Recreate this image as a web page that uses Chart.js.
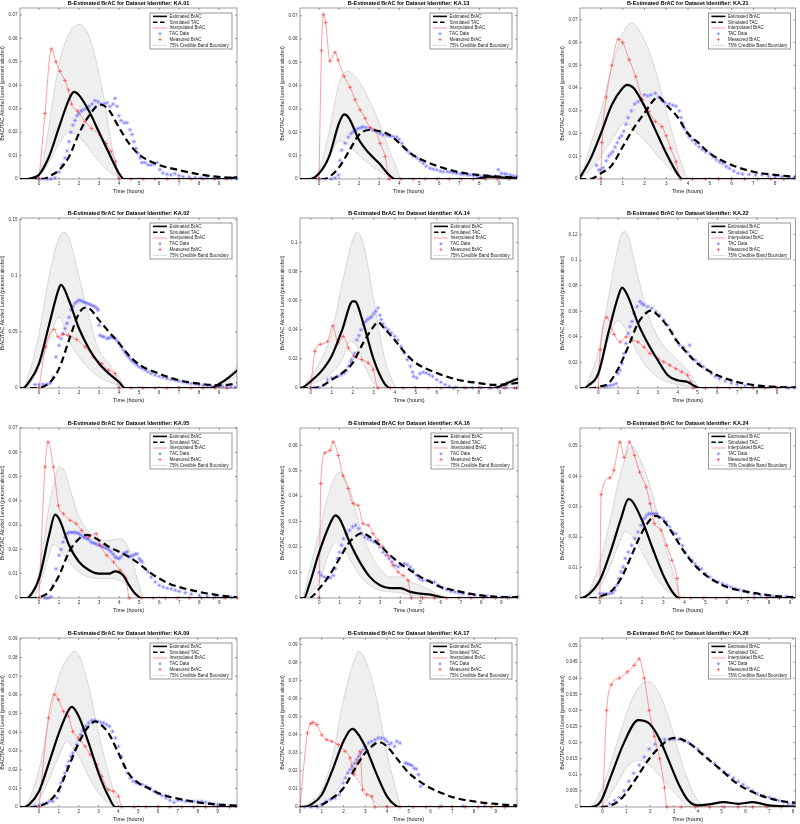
<!DOCTYPE html>
<html>
<head>
<meta charset="utf-8">
<script src="https://cdn.jsdelivr.net/npm/chart.js@4.4.0/dist/chart.umd.min.js"></script>
<style>
  html, body { margin: 0; padding: 0; background: #fff; }
  body { width: 800px; height: 824px; position: relative; overflow: hidden; }
  canvas { position: absolute; }
</style>
</head>
<body>
<script>
// panels, row by row
const panelIds = ['KA.01', 'KA.13', 'KA.21', 'KA.02', 'KA.14', 'KA.22', 'KA.05', 'KA.16', 'KA.24', 'KA.09', 'KA.17', 'KA.26'];
const xMin = [-0.95, -0.95, -0.96, -0.95, -0.51, -0.92, -0.95, -0.95, -0.94, -0.96, 0, -0.95];
const xMax = [9.9, 9.88, 8.93, 9.9, 9.87, 9.93, 9.88, 9.82, 9.25, 9.98, 9.98, 8.1];
const yMax = [0.073, 0.0733, 0.0752, 0.1515, 0.1168, 0.133, 0.07, 0.0668, 0.0559, 0.0905, 0.0937, 0.0525];
const yStep = [0.01, 0.01, 0.01, 0.05, 0.02, 0.02, 0.01, 0.01, 0.01, 0.01, 0.01, 0.005];
const xStep = 1;
const legendLabels = ['Estimated BrAC', 'Simulated TAC', 'Interpolated BrAC', 'TAC Data', 'Measured BrAC', '75% Credible Band Boundary'];

// [hours, percent alcohol]
const estBrAC = [
  [[-1,0],[-0.6,0],[-0.3,.0005],[0,.0018],[0.5,.0095],[1,.022],[1.5,.034],[1.75,.0372],[2,.0358],[2.5,.029],[3,.020],[3.5,.011],[4,.0024],[4.25,0],[9.3,0],[10,.001]],
  [[-1,0],[-0.5,0],[0,.0024],[0.5,.0096],[1,.024],[1.25,.0277],[1.5,.026],[2,.0167],[2.5,.011],[3,.0067],[3.5,.0017],[3.8,0],[7.8,0],[8.5,.001],[9.2,.0006],[10,.0004]],
  [[-1,0],[-0.5,.0084],[0,.020],[0.5,.0326],[1,.040],[1.2,.0414],[1.5,.040],[2,.032],[2.5,.0216],[3,.0113],[3.5,.0025],[3.75,0],[10,0]],
  [[-1,0],[-0.8,0],[-0.5,.0054],[0,.0218],[0.5,.056],[1,.089],[1.1,.0919],[1.5,.078],[2,.053],[2.5,.035],[3,.0218],[3.5,.0128],[4,.0054],[4.3,0],[8.6,0],[9,.0035],[9.5,.0095],[10,.017]],
  [[-1,0],[-0.6,0],[-0.4,.0003],[0,.0046],[0.5,.0114],[1,.022],[1.5,.040],[2,.0595],[2.1,.0595],[2.5,.0446],[3,.0195],[3.5,.0034],[3.8,0],[8.7,0],[9.3,.003],[10,.0072]],
  [[-1,0],[-0.7,0],[-0.5,.002],[0,.0113],[0.5,.0427],[1,.0715],[1.2,.0786],[1.5,.0715],[2,.0506],[2.5,.0348],[3,.0217],[3.5,.010],[4,.006],[4.5,.0047],[4.8,.002],[5.1,0],[10,0]],
  [[-1,0],[-0.6,0],[-0.5,.0004],[0,.008],[0.5,.0258],[0.8,.0343],[1,.0326],[1.5,.0217],[2,.0148],[2.5,.0114],[3,.010],[3.5,.010],[3.8,.011],[4.2,.0093],[4.5,.0052],[4.8,.0018],[5.1,0],[10,0]],
  [[-1,0],[-0.75,0],[-0.5,.005],[0,.018],[0.5,.0286],[0.8,.0325],[1,.0312],[1.5,.022],[2,.0142],[2.5,.0083],[3,.005],[3.5,.0039],[4,.0039],[4.5,.0024],[5,.0017],[5.5,.0013],[6,.0004],[6.3,0],[10,0]],
  [[-1,0],[-0.94,0],[-0.5,.0014],[0,.0058],[0.5,.0151],[1,.0261],[1.35,.0325],[1.5,.0321],[2,.0255],[2.5,.0162],[3,.0075],[3.5,.0014],[3.75,0],[10,0]],
  [[-1,0],[-0.75,0],[-0.5,.0013],[0,.0084],[0.5,.0236],[1,.0396],[1.5,.0521],[1.65,.0536],[2,.0486],[2.5,.0343],[3,.0182],[3.5,.0057],[3.85,0],[10,0]],
  [[0,0],[0.3,.0003],[0.5,.0013],[1,.0068],[1.5,.0207],[2,.0364],[2.4,.0433],[2.5,.0429],[3,.0336],[3.5,.0189],[4,.0059],[4.4,.0007],[4.55,0],[10,0]],
  [[-1,0],[-0.55,0],[-0.1,.0015],[0.37,.010],[0.9,.020],[1.5,.027],[1.95,.026],[2.4,.021],[2.8,.014],[3.2,.007],[3.6,.002],[4,.0005],[4.45,.0008],[5.1,.0015],[5.7,.001],[6.3,.0015],[7,.0005],[8.5,0]]
];

const simTAC = [
  [[-1,0],[0.2,0],[0.6,.0015],[1,.0038],[1.5,.0095],[2,.0195],[2.5,.027],[3.05,.0318],[3.5,.0294],[4,.022],[4.5,.0152],[5,.0105],[6,.006],[7,.0038],[8,.002],[9,.0009],[10,.0004]],
  [[-1,0],[0.3,0],[0.6,.0015],[1,.005],[1.5,.012],[2,.019],[2.5,.021],[3,.0205],[3.5,.019],[4,.0155],[4.5,.0115],[5,.0088],[6,.0053],[7,.0029],[8,.0017],[9,.001],[10,.0006]],
  [[-1,0],[-0.5,0],[0,.0025],[0.5,.006],[1,.0142],[1.5,.0223],[2,.029],[2.5,.0355],[2.65,.036],[3,.0326],[3.5,.0275],[4,.020],[4.5,.0157],[5,.0113],[6,.0062],[7,.0032],[8,.0018],[9,.001],[10,.0006]],
  [[-1,0],[0,0],[0.3,.002],[0.5,.004],[1,.0173],[1.5,.0426],[2,.0665],[2.3,.0715],[2.5,.071],[3,.0605],[3.5,.050],[4,.040],[4.5,.029],[5,.021],[6,.0128],[7,.0069],[8,.0039],[9,.0024],[9.5,.003],[10,.0048]],
  [[-1,0],[0,0],[0.5,.0011],[1,.0057],[1.5,.0103],[2,.0172],[2.5,.031],[3,.0423],[3.2,.0453],[3.5,.041],[4,.033],[4.5,.024],[5,.0172],[6,.0103],[7,.0057],[8,.0034],[8.7,.0022],[9.3,.0025],[10,.0038]],
  [[-1,0],[-0.2,0],[0,.001],[0.5,.0034],[1,.015],[1.5,.032],[2,.0506],[2.5,.0597],[2.65,.0605],[3,.057],[3.5,.048],[4,.036],[4.5,.027],[5,.019],[5.5,.014],[6,.010],[7,.0047],[8,.002],[9,.0008],[10,.0005]],
  [[-1,0],[-0.3,0],[0,.0003],[0.5,.0025],[1,.0093],[1.5,.019],[2,.0244],[2.4,.026],[3,.0237],[3.5,.021],[4,.019],[4.5,.0169],[5,.0141],[5.5,.0107],[6,.008],[6.5,.0059],[7,.0045],[8,.0025],[9,.0011],[10,.0002]],
  [[-1,0],[-0.5,0],[0,.0037],[0.5,.0089],[1,.0155],[1.5,.022],[2,.0253],[2.1,.0255],[2.5,.024],[3,.0207],[3.5,.0168],[4,.0135],[4.5,.0109],[5,.0083],[5.5,.0063],[6,.0043],[6.5,.0033],[7,.0024],[8,.001],[9,.0004],[10,.0003]],
  [[-1,0],[-0.3,0],[0,.0005],[0.5,.002],[1,.0064],[1.5,.014],[2,.0217],[2.5,.0266],[2.65,.027],[3,.0255],[3.5,.0206],[4,.0151],[4.5,.0107],[5,.0075],[5.5,.0053],[6,.0036],[7,.002],[8,.0009],[9,.0003],[10,.0002]],
  [[-1,0],[-0.3,0],[0,.0005],[0.5,.003],[1,.0093],[1.5,.0218],[2,.0343],[2.5,.0432],[2.85,.0459],[3,.045],[3.5,.0396],[4,.0289],[4.5,.0182],[5,.0129],[5.5,.0102],[6,.0075],[6.5,.0057],[7,.0045],[8,.0025],[9,.0013],[10,.0007]],
  [[0,0],[0.5,0],[1,.0013],[1.5,.005],[2,.0105],[2.5,.0207],[3,.030],[3.5,.0355],[3.6,.036],[4,.0336],[4.5,.0262],[5,.0189],[5.5,.0142],[6,.0105],[6.5,.0078],[7,.0055],[8,.0031],[9,.0017],[10,.0007]],
  [[-1,0],[-0.1,0],[0.7,.002],[1.33,.008],[1.96,.015],[2.6,.020],[3,.0215],[3.6,.020],[4.25,.016],[4.9,.012],[5.7,.007],[6.5,.004],[7.4,.002],[8.5,.001]]
];

const bandUpper = [
  [[-1,0],[-0.5,0],[0,.002],[0.3,.012],[0.7,.034],[1,.049],[1.5,.062],[2,.066],[2.5,.061],[3,.045],[3.3,.032],[3.6,.016],[3.9,.005],[4.25,0],[10,0]],
  [[-1,0],[-0.6,0],[0,.004],[0.5,.02],[1,.041],[1.4,.0463],[1.8,.044],[2.5,.034],[3,.024],[3.5,.0124],[3.9,.004],[4.1,0],[10,0]],
  [[-1,0],[-0.96,.0005],[-0.5,.0142],[0,.030],[0.5,.049],[1,.064],[1.4,.0686],[2,.061],[2.5,.048],[3,.030],[3.5,.0128],[3.8,.004],[4,0],[10,0]],
  [[-1,0],[-0.8,0],[-0.5,.0128],[0,.0486],[0.5,.099],[1,.1336],[1.25,.1387],[1.5,.1336],[2,.099],[2.5,.0635],[3,.0337],[3.5,.0218],[4,.0098],[4.3,0],[8.6,0],[9,.003],[9.5,.011],[10,.021]],
  [[-1,0],[-0.5,0],[0,.008],[0.5,.0195],[1,.0378],[1.5,.072],[2,.1018],[2.2,.1069],[2.5,.0995],[3,.0606],[3.5,.0217],[3.9,.0046],[4.1,0],[8.7,0],[9.3,.004],[10,.009]],
  [[-1,0],[-0.7,0],[-0.5,.006],[0,.0283],[0.5,.0689],[1,.1108],[1.3,.1226],[1.5,.1187],[2,.0872],[2.5,.058],[3,.040],[3.5,.0296],[4,.0217],[4.5,.0139],[5,.002],[5.15,0],[10,0]],
  [[-1,0],[-0.6,0],[-0.3,.0025],[0,.0107],[0.5,.038],[0.8,.049],[1,.0539],[1.3,.0519],[1.5,.0464],[2,.0333],[2.5,.0272],[3,.0244],[3.5,.0237],[4,.0244],[4.3,.023],[4.6,.0176],[4.9,.008],[5.1,.0025],[5.3,0],[10,0]],
  [[-1,0],[-0.85,0],[-0.5,.0102],[0,.026],[0.5,.0417],[1,.0495],[1.5,.043],[2,.0286],[2.5,.018],[3,.0115],[3.5,.0083],[4,.0083],[4.5,.0063],[5,.005],[5.5,.003],[6,.001],[6.3,0],[10,0]],
  [[-1,0],[-0.94,0],[-0.5,.0025],[0,.0118],[0.5,.0261],[1,.0414],[1.5,.0497],[2,.0442],[2.5,.0338],[3,.0195],[3.5,.0075],[3.9,0],[10,0]],
  [[-1,0],[-0.75,0],[-0.5,.0039],[0,.020],[0.5,.0468],[1,.070],[1.5,.0807],[1.8,.0834],[2,.0816],[2.5,.0646],[3,.0396],[3.5,.0182],[3.9,.0039],[4.1,0],[10,0]],
  [[0,0],[0.2,.0005],[0.5,.0031],[1,.0096],[1.5,.0281],[2,.0595],[2.5,.0817],[2.7,.0863],[3,.0817],[3.5,.0614],[4,.030],[4.5,.0059],[4.65,0],[10,0]],
  [[-1,0],[-0.55,0],[0.08,.008],[0.7,.022],[1.33,.035],[1.9,.039],[2.4,.035],[2.8,.027],[3.2,.017],[3.6,.008],[4,.002],[4.4,0],[8.5,0]]
];

const bandLower = [
  [[-1,0],[-0.3,0],[0,.0012],[0.5,.007],[1,.015],[1.5,.0198],[2,.018],[2.5,.013],[3,.0075],[3.5,.0032],[4,.0007],[4.3,0],[10,0]],
  [[-1,0],[-0.3,0],[0,.002],[0.5,.009],[1,.0163],[1.5,.0145],[2,.010],[2.5,.0065],[3,.0035],[3.5,.001],[3.9,0],[10,0]],
  [[-1,0],[-0.5,.004],[0,.010],[0.5,.0172],[1,.0245],[1.1,.025],[1.5,.0216],[2,.0172],[2.5,.0113],[3,.0062],[3.5,.0018],[3.8,0],[10,0]],
  [[-1,0],[-0.6,0],[-0.5,.002],[0,.0188],[0.5,.0426],[1,.063],[1.5,.0426],[2,.0277],[2.5,.0173],[3,.0098],[3.5,.0054],[4,.0024],[4.3,0],[8.8,0],[9.3,.004],[10,.012]],
  [[-1,0],[-0.3,0],[0,.0023],[0.5,.0057],[1,.0103],[1.5,.0195],[1.9,.032],[2.2,.0286],[2.5,.0172],[3,.0034],[3.3,0],[8.8,0],[10,.004]],
  [[-1,0],[-0.6,0],[-0.5,.001],[0,.0086],[0.5,.0375],[1,.0527],[1.3,.048],[1.5,.0427],[2,.027],[2.5,.0152],[3,.0086],[3.5,.0047],[4,.0026],[4.5,.0013],[5,0],[10,0]],
  [[-1,0],[-0.3,0],[0,.0045],[0.5,.0176],[0.7,.022],[1,.0203],[1.5,.0148],[2,.0107],[2.5,.0086],[3,.008],[3.5,.008],[4,.0073],[4.5,.0045],[4.8,.0018],[5,0],[10,0]],
  [[-1,0],[-0.6,0],[-0.5,.001],[0,.0063],[0.5,.018],[0.8,.0218],[1,.0214],[1.5,.0155],[2,.0089],[2.5,.005],[3,.003],[3.5,.0024],[4,.0021],[4.5,.0013],[5,.0008],[5.5,0],[10,0]],
  [[-1,0],[-0.7,0],[-0.5,.0005],[0,.0036],[0.5,.0107],[1,.0195],[1.2,.0219],[1.5,.0206],[2,.0151],[2.5,.0086],[3,.0036],[3.5,.0009],[3.75,0],[10,0]],
  [[-1,0],[-0.6,0],[-0.5,.0005],[0,.0039],[0.5,.0146],[1,.0271],[1.4,.0352],[1.5,.0346],[2,.0271],[2.5,.0164],[3,.0075],[3.5,.0021],[3.8,0],[10,0]],
  [[0,0],[0.5,0],[1,.0007],[1.5,.0059],[2,.0152],[2.2,.0183],[2.5,.017],[3,.0087],[3.5,.0022],[3.8,0],[10,0]],
  [[-1,0],[-0.1,0],[0.5,.006],[1.1,.013],[1.5,.0145],[1.96,.013],[2.6,.008],[3.2,.003],[3.6,0],[8.5,0]]
];

const measuredBrAC = [
  [[0,0],[0.3,.028],[0.62,.0555],[0.85,.050],[1.05,.046],[1.3,.042],[1.47,.038],[1.63,.032],[1.92,.029],[2.3,.0245],[2.63,.0216],[3.05,.0188],[3.35,.0152],[3.6,.0117],[3.83,.0074],[4,0],[4.6,0],[5.2,0],[5.8,0],[6.4,0],[7,0],[7.6,0],[8.2,0],[8.8,0],[9.4,0]],
  [[0,0],[0.12,.055],[0.22,.0705],[0.33,.067],[0.55,.0505],[0.8,.0543],[0.95,.051],[1.25,.044],[1.55,.0393],[1.8,.034],[2.05,.0296],[2.3,.026],[2.55,.022],[2.8,.021],[3.05,.0153],[3.3,.0096],[3.5,0],[4.1,0],[4.7,0],[5.3,0],[5.9,0],[6.5,0],[7.1,0],[7.7,0],[8.3,0],[8.9,0],[9.5,0]],
  [[0,0],[0.05,.016],[0.25,.036],[0.5,.050],[0.8,.0615],[1,.060],[1.3,.0524],[1.6,.045],[1.9,.035],[2.2,.0297],[2.5,.0253],[2.8,.023],[3.0,.019],[3.2,.0135],[3.45,.0075],[3.65,0],[4.2,0],[4.8,0],[5.4,0],[6,0],[6.6,0],[7.2,0],[7.8,0],[8.4,0]],
  [[0,0],[0.33,.0367],[0.75,.0522],[0.95,.0456],[1.2,.0477],[1.47,.047],[1.88,.0432],[2.3,.0367],[2.72,.0277],[3.13,.0218],[3.47,.0158],[3.8,.0128],[4,0],[4.6,0],[5.2,0],[5.8,0],[6.4,0],[7,0],[7.6,0],[8.2,0],[8.8,0],[9.4,0]],
  [[0,0],[0.2,.0252],[0.45,.030],[0.8,.032],[1.05,.0428],[1.3,.031],[1.55,.0355],[1.8,.0275],[2.1,.0217],[2.42,.0195],[2.74,.0172],[2.98,.0126],[3.2,0],[3.8,0],[4.4,0],[5,0],[5.6,0],[6.2,0],[6.8,0],[7.4,0],[8,0],[8.6,0],[9.2,0],[9.8,0]],
  [[0,0],[0.1,.030],[0.42,.0553],[0.8,.042],[1.1,.036],[1.4,.040],[1.7,.0375],[2,.036],[2.3,.032],[2.6,.027],[3,.023],[3.3,.0204],[3.6,.0178],[3.9,.0152],[4.2,.0126],[4.5,.010],[4.65,.0047],[4.8,0],[5.4,0],[6,0],[6.6,0],[7.2,0],[7.8,0],[8.4,0],[9,0],[9.6,0]],
  [[0,0],[0.3,.054],[0.45,.0642],[0.72,.054],[0.97,.038],[1.22,.0347],[1.55,.032],[1.85,.0306],[2.13,.0278],[2.47,.0251],[2.85,.0265],[3.05,.0217],[3.38,.0176],[3.72,.0148],[4.05,.0114],[4.35,.008],[4.5,0],[5.1,0],[5.7,0],[6.3,0],[6.9,0],[7.5,0],[8.1,0],[8.7,0],[9.3,0],[9.9,0]],
  [[0,0],[0.08,.045],[0.28,.057],[0.53,.058],[0.69,.0613],[0.94,.056],[1.18,.048],[1.43,.043],[1.68,.0371],[1.92,.0364],[2.17,.0292],[2.42,.0286],[2.66,.0253],[2.9,.0227],[3.16,.020],[3.4,.0168],[3.65,.0128],[3.9,.0102],[4.14,.0089],[4.39,.0069],[4.56,0],[5.1,0],[5.7,0],[6.3,0],[6.9,0],[7.5,0],[8.1,0],[8.7,0],[9.3,0]],
  [[0,0],[0.06,.034],[0.47,.0395],[0.66,.042],[0.95,.0513],[1.15,.0462],[1.4,.0513],[1.64,.0469],[1.88,.0414],[2.19,.0365],[2.38,.031],[2.58,.0245],[2.9,.0223],[3.16,.0173],[3.41,.0124],[3.65,.0064],[3.75,0],[4.3,0],[4.9,0],[5.5,0],[6.1,0],[6.7,0],[7.3,0],[7.9,0],[8.5,0],[9.1,0]],
  [[0,0],[0.47,.0477],[0.77,.0602],[0.98,.0575],[1.23,.0512],[1.48,.0486],[1.7,.0405],[1.99,.037],[2.32,.0325],[2.58,.028],[2.91,.0227],[3.16,.0164],[3.5,.0093],[3.75,.0084],[4,.0057],[4.17,0],[4.8,0],[5.4,0],[6,0],[6.6,0],[7.2,0],[7.8,0],[8.4,0],[9,0],[9.6,0]],
  [[0,0],[0.34,.041],[0.49,.0462],[0.6,.0469],[0.77,.0457],[1,.040],[1.23,.0373],[1.46,.0364],[1.76,.0346],[2.07,.0309],[2.3,.0272],[2.48,.0179],[2.62,.024],[2.76,.0309],[2.88,.0096],[3.07,.0068],[3.3,.0059],[3.45,0],[4,0],[4.6,0],[5.2,0],[5.8,0],[6.4,0],[7,0],[7.6,0],[8.2,0],[8.8,0],[9.4,0]],
  [[0,0],[0.17,.030],[0.37,.038],[0.7,.040],[1.04,.042],[1.33,.044],[1.54,.046],[1.75,.040],[1.96,.030],[2.17,.022],[2.4,.015],[2.6,.006],[2.7,0],[3.3,0],[3.9,0],[4.5,0],[5.1,0],[5.7,0],[6.3,0],[6.9,0],[7.5,0]]
];

const tacData = [
  [[0,0],[0.2,0],[0.4,0],[0.6,0],[0.8,.0005],[1,.003],[1.15,.006],[1.3,.009],[1.4,.012],[1.5,.016],[1.6,.020],[1.7,.023],[1.8,.025],[1.9,.027],[2,.028],[2.1,.029],[2.2,.0295],[2.35,.030],[2.5,.031],[2.65,.032],[2.8,.0335],[2.95,.033],[3.1,.032],[3.25,.032],[3.4,.0325],[3.55,.031],[3.7,.032],[3.8,.0344],[3.9,.031],[4,.027],[4.1,.025],[4.25,.024],[4.4,.024],[4.55,.021],[4.65,.019],[4.75,.016],[4.85,.013],[4.95,.011],[5.05,.009],[5.15,.007],[5.3,.007],[5.45,.006],[5.6,.006],[5.75,.0065],[5.9,.007],[6.05,.004],[6.2,.0025],[6.4,.002],[6.6,.0017],[6.8,.0023],[7,.0015],[7.2,.001],[7.5,.0008],[7.8,.0006],[8.1,.0005],[8.4,.0004],[8.7,.0003],[9,.0003],[9.3,.0002],[9.6,.0002],[9.9,.0001]],
  [[0,0],[0.3,0],[0.6,0],[0.8,.0005],[0.97,.0017],[1.05,.008],[1.13,.0124],[1.3,.0153],[1.46,.018],[1.6,.0195],[1.71,.0203],[1.85,.021],[1.96,.0217],[2.1,.022],[2.2,.0224],[2.35,.022],[2.55,.0217],[2.7,.021],[2.88,.0203],[3.05,.0195],[3.2,.0189],[3.4,.0186],[3.55,.0184],[3.7,.0182],[3.88,.018],[4.0,.017],[4.13,.0153],[4.3,.013],[4.42,.012],[4.54,.011],[4.7,.0098],[4.9,.0089],[5.05,.0078],[5.2,.0067],[5.35,.0055],[5.54,.0046],[5.7,.0042],[5.87,.0039],[6.05,.0034],[6.2,.0031],[6.4,.0031],[6.54,.003],[6.7,.0027],[6.87,.0024],[7.05,.0022],[7.2,.002],[7.4,.0018],[7.54,.0017],[7.7,.0015],[7.87,.0013],[8.05,.0011],[8.2,.001],[8.4,.001],[8.6,.001],[8.8,.0012],[8.95,.004],[9.1,.0024],[9.25,.0022],[9.37,.0021],[9.55,.0017],[9.7,.0013],[9.85,.001]],
  [[-0.2,.006],[-0.1,.004],[0,.004],[0.1,.005],[0.25,.008],[0.35,.010],[0.45,.011],[0.55,.012],[0.65,.014],[0.75,.016],[0.85,.018],[0.95,.019],[1.05,.021],[1.15,.024],[1.25,.027],[1.4,.030],[1.55,.033],[1.7,.034],[1.85,.035],[2,.037],[2.15,.0365],[2.3,.037],[2.5,.0377],[2.65,.036],[2.8,.0345],[2.95,.0335],[3.15,.033],[3.3,.0325],[3.45,.032],[3.6,.030],[3.68,.027],[3.75,.0245],[3.85,.022],[3.95,.020],[4.05,.0186],[4.2,.017],[4.35,.0155],[4.5,.0142],[4.65,.013],[4.8,.012],[5,.0113],[5.15,.0098],[5.3,.0085],[5.45,.0075],[5.6,.0069],[5.75,.0055],[5.9,.0047],[6.1,.0035],[6.3,.0025],[6.5,.0022],[6.8,.002],[7.1,.0018],[7.4,.0018],[7.7,.0012],[8,.001],[8.3,.001],[8.6,.0007],[8.85,.0005]],
  [[-0.2,.003],[0,.003],[0.2,.0035],[0.4,.0035],[0.55,.004],[0.7,.0098],[0.85,.0277],[1,.038],[1.1,.044],[1.2,.0486],[1.3,.053],[1.4,.0576],[1.5,.063],[1.6,.0695],[1.7,.073],[1.8,.0755],[1.9,.077],[2,.0784],[2.1,.0778],[2.2,.077],[2.3,.0762],[2.4,.0755],[2.5,.0748],[2.6,.074],[2.7,.0732],[2.8,.0725],[2.9,.071],[2.95,.0695],[3.0,.056],[3.05,.047],[3.15,.046],[3.25,.0455],[3.4,.044],[3.5,.0445],[3.6,.0456],[3.7,.045],[3.8,.044],[3.9,.042],[4,.040],[4.1,.037],[4.2,.034],[4.3,.0315],[4.4,.029],[4.5,.027],[4.6,.025],[4.7,.0235],[4.8,.022],[4.9,.0205],[5,.0188],[5.15,.0175],[5.3,.016],[5.45,.0145],[5.6,.0128],[5.8,.0115],[6,.0104],[6.2,.0094],[6.4,.0084],[6.6,.0076],[6.8,.0069],[7,.006],[7.2,.0054],[7.4,.0046],[7.6,.0039],[7.8,.0034],[8,.003],[8.2,.0025],[8.4,.002],[8.6,.0017],[8.8,.0015],[9,.0012],[9.2,.001],[9.4,.001],[9.6,.001],[9.8,.0008]],
  [[0,0],[0.2,.0003],[0.4,.0005],[0.6,.002],[0.8,.0057],[1,.0069],[1.15,.0072],[1.3,.008],[1.45,.009],[1.6,.0103],[1.7,.012],[1.8,.015],[1.9,.018],[1.95,.0195],[2.05,.022],[2.1,.024],[2.2,.033],[2.3,.036],[2.4,.040],[2.5,.0435],[2.6,.0455],[2.7,.047],[2.8,.048],[2.9,.049],[3.0,.051],[3.1,.0526],[3.2,.055],[3.3,.050],[3.35,.047],[3.45,.044],[3.55,.0415],[3.7,.040],[3.85,.0378],[4,.0355],[4.15,.033],[4.3,.0286],[4.45,.024],[4.6,.0195],[4.75,.015],[4.85,.011],[4.9,.008],[5.05,.0069],[5.2,.0098],[5.35,.0108],[5.5,.0103],[5.65,.0092],[5.8,.008],[6,.0057],[6.2,.0039],[6.4,.0023],[6.6,.001],[6.9,.0005],[7.3,.0003],[7.7,.0002],[8.1,.0002],[8.5,.0001],[8.9,.0001],[9.3,.0001],[9.7,.0001]],
  [[0.3,.001],[0.45,.0015],[0.6,.002],[0.75,.0025],[0.9,.0034],[1,.0113],[1.1,.014],[1.2,.019],[1.3,.027],[1.4,.0348],[1.5,.0427],[1.6,.048],[1.7,.052],[1.8,.0584],[1.95,.0637],[2.1,.0676],[2.2,.066],[2.3,.065],[2.5,.0637],[2.7,.0624],[2.9,.0597],[3.1,.0571],[3.3,.0532],[3.5,.0493],[3.7,.044],[3.9,.0375],[4.1,.0335],[4.3,.032],[4.5,.028],[4.6,.0335],[4.7,.024],[4.9,.0217],[5.1,.019],[5.3,.0165],[5.5,.014],[5.7,.0113],[5.9,.009],[6.1,.0073],[6.4,.0055],[6.7,.0039],[7,.0029],[7.4,.0018],[7.8,.0013],[8.2,.0009],[8.6,.0006],[9,.0004],[9.5,.0003],[9.9,.0003]],
  [[0.3,0],[0.45,0],[0.6,.0005],[0.7,.0052],[0.85,.012],[1,.0176],[1.1,.020],[1.2,.023],[1.3,.025],[1.4,.0265],[1.5,.027],[1.6,.027],[1.7,.027],[1.8,.027],[1.9,.0268],[2,.0265],[2.1,.0258],[2.2,.0251],[2.3,.0248],[2.4,.0244],[2.5,.024],[2.6,.023],[2.7,.0227],[2.8,.0224],[2.9,.022],[3,.0217],[3.1,.0214],[3.2,.021],[3.3,.0207],[3.4,.0203],[3.5,.0197],[3.6,.019],[3.7,.018],[3.8,.0169],[3.9,.0165],[4,.0162],[4.1,.017],[4.2,.0182],[4.3,.0186],[4.4,.019],[4.5,.0169],[4.6,.0172],[4.7,.0176],[4.8,.018],[4.9,.0182],[5,.0162],[5.08,.0155],[5.15,.0148],[5.3,.012],[5.45,.0107],[5.6,.0086],[5.8,.0066],[6,.0052],[6.2,.0045],[6.4,.004],[6.6,.0038],[6.8,.0032],[7,.0027],[7.3,.0022],[7.6,.0016],[8,.0011],[8.4,.0008],[8.8,.0006],[9.2,.0004],[9.6,.0003]],
  [[0,.010],[0.1,.0089],[0.25,.0083],[0.4,.0079],[0.55,.0079],[0.7,.0089],[0.8,.0115],[0.9,.0155],[1,.018],[1.1,.0207],[1.2,.0233],[1.35,.0253],[1.5,.0266],[1.65,.028],[1.8,.0286],[1.95,.0273],[2.1,.0253],[2.25,.024],[2.4,.0233],[2.55,.0227],[2.7,.022],[2.85,.0214],[3,.020],[3.15,.018],[3.3,.0168],[3.45,.0155],[3.6,.0142],[3.75,.0128],[3.9,.0122],[4.05,.0128],[4.2,.0135],[4.35,.0131],[4.5,.0122],[4.65,.0109],[4.8,.0089],[4.95,.0076],[5.1,.0069],[5.3,.0069],[5.5,.0066],[5.7,.0063],[5.9,.005],[6.1,.0039],[6.3,.0033],[6.5,.0026],[6.7,.0024],[6.9,.0021],[7.1,.0017],[7.4,.0013],[7.7,.001],[8,.0008],[8.3,.0007],[8.6,.0005],[9,.0004],[9.4,.0004],[9.8,.0004]],
  [[0,.0014],[0.15,.0014],[0.3,.0014],[0.45,.0014],[0.6,.0016],[0.7,.0025],[0.8,.0042],[0.9,.0064],[1,.0086],[1.1,.0102],[1.2,.013],[1.35,.0151],[1.5,.0173],[1.65,.0195],[1.8,.0217],[1.95,.0239],[2.1,.0261],[2.2,.027],[2.3,.0277],[2.4,.0277],[2.5,.0277],[2.6,.0277],[2.7,.0277],[2.85,.0266],[3,.0261],[3.15,.025],[3.3,.0234],[3.45,.0217],[3.6,.0212],[3.75,.0195],[3.9,.0173],[4.05,.0151],[4.2,.0135],[4.35,.0124],[4.5,.0113],[4.65,.0102],[4.8,.0096],[5,.008],[5.2,.0069],[5.4,.0058],[5.6,.0053],[5.8,.0047],[6,.0042],[6.2,.0036],[6.4,.0031],[6.6,.0027],[6.8,.0024],[7,.0018],[7.3,.0011],[7.6,.0009],[7.9,.0007],[8.2,.0005],[8.5,.0004],[8.8,.0004],[9.1,.0003]],
  [[-0.2,.0005],[0,.001],[0.2,.0015],[0.4,.002],[0.5,.003],[0.7,.003],[0.9,.0048],[1,.0084],[1.1,.0129],[1.2,.0155],[1.3,.0182],[1.4,.0218],[1.5,.0245],[1.6,.0271],[1.7,.0289],[1.8,.0307],[1.9,.0334],[2,.036],[2.1,.0388],[2.2,.041],[2.35,.0432],[2.5,.045],[2.65,.0463],[2.8,.0464],[2.95,.0459],[3.1,.0454],[3.25,.045],[3.4,.0441],[3.55,.0432],[3.7,.0405],[3.85,.037],[4,.0325],[4.15,.0271],[4.3,.0218],[4.45,.0182],[4.6,.0155],[4.75,.0138],[4.9,.0129],[5.05,.0125],[5.2,.012],[5.4,.0111],[5.6,.0102],[5.8,.0084],[6,.0071],[6.2,.0061],[6.4,.0048],[6.6,.0036],[6.8,.0025],[7,.0036],[7.2,.0036],[7.4,.003],[7.6,.003],[7.8,.003],[8,.003],[8.2,.003],[8.4,.0025],[8.6,.0021],[8.8,.0016],[9,.0013],[9.3,.001],[9.6,.0007],[9.9,.0004]],
  [[0.2,0],[0.5,0],[0.8,0],[1,.0013],[1.2,.0031],[1.4,.0041],[1.6,.005],[1.8,.0068],[1.9,.0096],[2,.0133],[2.1,.0161],[2.2,.0189],[2.3,.0207],[2.4,.0226],[2.5,.0244],[2.6,.0262],[2.7,.0281],[2.8,.030],[2.9,.0318],[3,.0336],[3.15,.0355],[3.3,.0364],[3.45,.0373],[3.6,.0383],[3.75,.0383],[3.9,.0377],[4,.0364],[4.1,.0346],[4.2,.0355],[4.35,.0336],[4.45,.0364],[4.6,.0355],[4.85,.0244],[4.95,.024],[5.05,.0235],[5.15,.023],[5.25,.0215],[5.35,.021],[5.45,.018],[5.55,.0115],[6.5,.0005],[7.5,.0005],[8.5,.0005],[9.5,.0005],[9.9,.001]],
  [[0.3,.001],[0.5,.002],[0.7,.003],[0.9,.005],[1.1,.008],[1.3,.0105],[1.54,.013],[1.75,.0155],[1.96,.018],[2.2,.0195],[2.4,.021],[2.6,.021],[2.8,.021],[3,.021],[3.2,.021],[3.4,.0205],[3.6,.020],[3.8,.019],[4,.018],[4.2,.0165],[4.45,.015],[4.7,.0135],[4.9,.012],[5.1,.011],[5.3,.010],[5.5,.009],[5.7,.008],[5.9,.007],[6.1,.006],[6.3,.005],[6.5,.004],[6.75,.0035],[7,.003],[7.2,.0025],[7.4,.002],[7.6,.0015],[7.8,.001],[8,.0008]]
];

// plot box of each panel on the page: left, top, right, bottom
const boxes = [
  [20, 8, 237, 179], [300, 8, 517, 179], [580, 8, 797, 179],
  [20, 218, 237, 388], [300, 218, 518, 388], [580, 218, 797, 388],
  [20, 428, 237, 598], [300, 428, 518, 598], [580, 428, 797, 598],
  [20, 638, 237, 807], [300, 638, 517, 807], [580, 638, 797, 807]
];

const FONT = "'Liberation Sans', Arial, Helvetica, sans-serif";
const RED_LINE = 'rgba(255,70,70,0.65)';
const RED_MARK = '#ff2a2a';
const BLUE_MARK = 'rgba(95,95,255,0.75)';
const BAND = '#8c8c8c';

const toXY = pts => pts.map(p => ({ x: p[0], y: p[1] }));
const fmt = v => String(+(+v).toFixed(4));

function drawCross(ctx, x, y, r) {
  ctx.moveTo(x - r, y); ctx.lineTo(x + r, y);
  ctx.moveTo(x, y - r); ctx.lineTo(x, y + r);
}
function drawStar(ctx, x, y, r) {
  drawCross(ctx, x, y, r);
  const d = r * 0.707;
  ctx.moveTo(x - d, y - d); ctx.lineTo(x + d, y + d);
  ctx.moveTo(x - d, y + d); ctx.lineTo(x + d, y - d);
}

// box, inward ticks, title and the legend box (matlab look)
const frameAndLegend = {
  id: 'frameAndLegend',
  afterDraw(chart, args, opts) {
    const ctx = chart.ctx;
    const a = chart.chartArea;
    const xs = chart.scales.x, ys = chart.scales.y;
    ctx.save();
    ctx.strokeStyle = 'rgba(40,40,40,0.75)';
    ctx.lineWidth = 0.6;
    ctx.strokeRect(a.left, a.top, a.right - a.left, a.bottom - a.top);
    ctx.beginPath();
    xs.ticks.forEach(t => {
      const px = xs.getPixelForValue(t.value);
      ctx.moveTo(px, a.bottom); ctx.lineTo(px, a.bottom - 2);
      ctx.moveTo(px, a.top); ctx.lineTo(px, a.top + 2);
    });
    ys.ticks.forEach(t => {
      const py = ys.getPixelForValue(t.value);
      ctx.moveTo(a.left, py); ctx.lineTo(a.left + 2, py);
      ctx.moveTo(a.right, py); ctx.lineTo(a.right - 2, py);
    });
    ctx.stroke();

    ctx.fillStyle = '#000';
    ctx.font = 'bold 5.5px ' + FONT;
    ctx.textAlign = 'center';
    ctx.textBaseline = 'middle';
    ctx.fillText(opts.title, (a.left + a.right) / 2, a.top - 4.5);

    const lw = 82, lh = 36;
    const lx = a.right - 5 - lw, ly = a.top + 5;
    ctx.fillStyle = '#fff';
    ctx.fillRect(lx, ly, lw, lh);
    ctx.strokeStyle = '#333';
    ctx.lineWidth = 0.5;
    ctx.strokeRect(lx, ly, lw, lh);
    ctx.font = '4.5px ' + FONT;
    ctx.textAlign = 'left';
    legendLabels.forEach((lab, k) => {
      const cy = ly + 3.4 + k * 5.8;
      const x0 = lx + 3, x1 = lx + 17, xm = (x0 + x1) / 2;
      ctx.beginPath();
      ctx.setLineDash([]);
      if (k === 0 || k === 1) {
        ctx.strokeStyle = '#000'; ctx.lineWidth = 1.6;
        if (k === 1) ctx.setLineDash([4.5, 2.5]);
        ctx.moveTo(x0, cy); ctx.lineTo(x1, cy);
      } else if (k === 2) {
        ctx.strokeStyle = RED_LINE; ctx.lineWidth = 0.8;
        ctx.moveTo(x0, cy); ctx.lineTo(x1, cy);
      } else if (k === 3) {
        ctx.strokeStyle = BLUE_MARK; ctx.lineWidth = 0.6;
        drawStar(ctx, xm, cy, 1.7);
      } else if (k === 4) {
        ctx.strokeStyle = RED_MARK; ctx.lineWidth = 0.6;
        drawCross(ctx, xm, cy, 1.7);
      } else {
        ctx.strokeStyle = BAND; ctx.lineWidth = 0.6;
        ctx.setLineDash([0.8, 0.9]);
        ctx.moveTo(x0, cy); ctx.lineTo(x1, cy);
      }
      ctx.stroke();
      ctx.setLineDash([]);
      ctx.fillStyle = '#222';
      ctx.fillText(lab, lx + 19.5, cy + 0.2);
    });
    ctx.restore();
  }
};

panelIds.forEach((id, i) => {
  const [L, T, R, B] = boxes[i];
  const padR = Math.min(10, 800 - R);
  const w = 20 + (R - L) + padR;
  const h = 8 + (B - T) + 20;
  const c = document.createElement('canvas');
  c.width = w; c.height = h;
  c.style.left = (L - 20) + 'px';
  c.style.top = (T - 8) + 'px';
  document.body.appendChild(c);

  const curve = { pointRadius: 0, cubicInterpolationMode: 'monotone', fill: false };

  new Chart(c, {
    type: 'line',
    data: {
      datasets: [
        { ...curve, label: legendLabels[0], data: toXY(estBrAC[i]), borderColor: '#000', borderWidth: 2.2 },
        { ...curve, label: legendLabels[1], data: toXY(simTAC[i]), borderColor: '#000', borderWidth: 2.2, borderDash: [7, 4] },
        { ...curve, label: legendLabels[2], data: toXY(measuredBrAC[i]), borderColor: RED_LINE, borderWidth: 0.8 },
        { label: legendLabels[4], data: toXY(measuredBrAC[i]), showLine: false, pointStyle: 'cross',
          pointRadius: 2, borderColor: RED_MARK, borderWidth: 0.6, clip: 3 },
        { label: legendLabels[3], data: toXY(tacData[i]), showLine: false, pointStyle: 'star',
          pointRadius: 2.2, borderColor: BLUE_MARK, borderWidth: 0.6, clip: 3 },
        { ...curve, label: legendLabels[5], data: toXY(bandUpper[i]), borderColor: BAND, borderWidth: 0.6,
          borderDash: [0.8, 0.9], fill: '+1', backgroundColor: '#efefef' },
        { ...curve, label: legendLabels[5], data: toXY(bandLower[i]), borderColor: BAND, borderWidth: 0.6,
          borderDash: [0.8, 0.9] }
      ]
    },
    options: {
      responsive: false,
      animation: false,
      events: [],
      layout: { padding: { left: 0, top: 8, right: padR, bottom: 4 } },
      plugins: {
        legend: { display: false },
        tooltip: { enabled: false },
        filler: { drawTime: 'beforeDatasetsDraw' },
        frameAndLegend: { title: 'B-Estimated BrAC for Dataset Identifier: ' + id }
      },
      scales: {
        x: {
          type: 'linear', min: xMin[i], max: xMax[i],
          afterFit: s => { s.height = 16; },
          grid: { display: false, drawTicks: false },
          border: { display: false },
          ticks: { stepSize: xStep, includeBounds: false, autoSkip: false, maxRotation: 0, padding: 2,
                   color: '#333', font: { family: FONT, size: 4.6 }, callback: v => fmt(v) },
          title: { display: true, text: 'Time (hours)', color: '#111', padding: 0, font: { family: FONT, size: 5.5 } }
        },
        y: {
          type: 'linear', min: 0, max: yMax[i],
          afterFit: s => { s.width = 20; },
          grid: { display: false, drawTicks: false },
          border: { display: false },
          ticks: { stepSize: yStep[i], includeBounds: false, autoSkip: false, padding: 2.5,
                   color: '#333', font: { family: FONT, size: 4.6 }, callback: v => fmt(v) },
          title: { display: true, text: 'BrAC/TAC Alcohol Level (percent alcohol)', color: '#111', padding: 0,
                   font: { family: FONT, size: 5.1 } }
        }
      }
    },
    plugins: [frameAndLegend]
  });
});
</script>
</body>
</html>
